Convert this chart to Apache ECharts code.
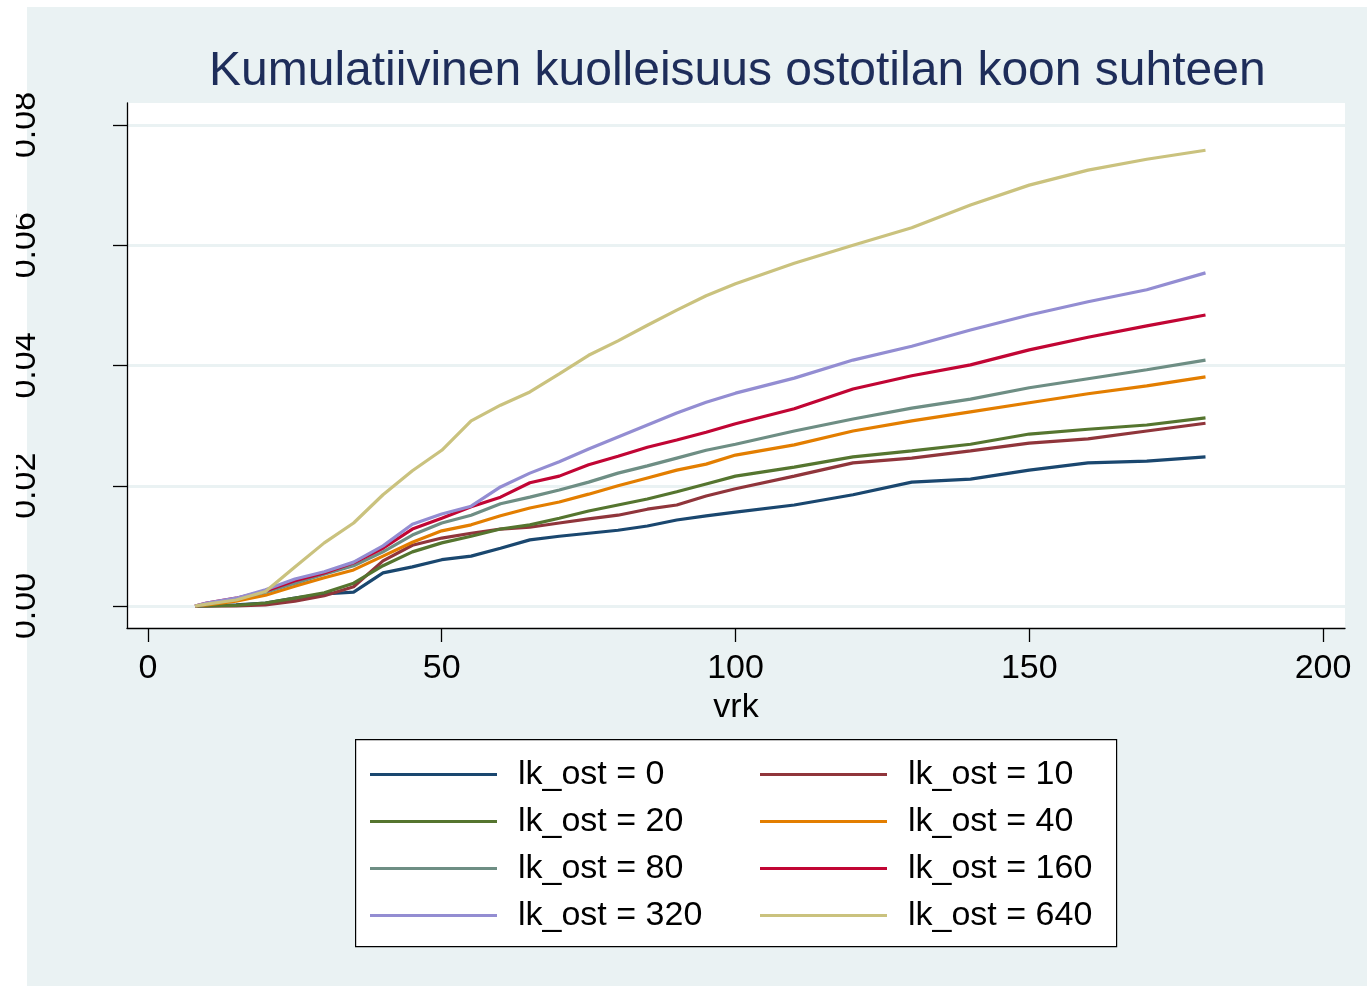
<!DOCTYPE html>
<html>
<head>
<meta charset="utf-8">
<script src="https://cdn.jsdelivr.net/npm/echarts@6/dist/echarts.min.js"></script>
<style>
  body { margin: 0; background: #fff; }
  #chart { width: 1367px; height: 986px; }
</style>
</head>
<body>
<div id="chart"></div>
<script>
// days since start (vrk)
const days = [8, 10, 15, 20, 25, 30, 35, 40, 45, 50, 55, 60, 65, 70, 75, 80, 85, 90, 95, 100, 110, 120, 130, 140, 150, 160, 170, 180];

// cumulative mortality by lk_ost group
const ost0   = [0, 0, 0.0002, 0.0005, 0.0013, 0.0020, 0.0023, 0.0055, 0.0065, 0.0077, 0.0083, 0.0096, 0.0110, 0.0116, 0.0121, 0.0126, 0.0133, 0.0143, 0.0150, 0.0156, 0.0168, 0.0185, 0.0206, 0.0211, 0.0226, 0.0238, 0.0241, 0.0248];
const ost10  = [0, 0, 0, 0.0002, 0.0008, 0.0017, 0.0032, 0.0075, 0.0101, 0.0113, 0.0121, 0.0128, 0.0131, 0.0138, 0.0145, 0.0151, 0.0161, 0.0168, 0.0183, 0.0195, 0.0216, 0.0238, 0.0246, 0.0258, 0.0271, 0.0278, 0.0291, 0.0304];
const ost20  = [0, 0, 0.0001, 0.0005, 0.0013, 0.0022, 0.0038, 0.0067, 0.0090, 0.0105, 0.0116, 0.0128, 0.0135, 0.0146, 0.0158, 0.0168, 0.0178, 0.0190, 0.0203, 0.0216, 0.0231, 0.0248, 0.0258, 0.0269, 0.0286, 0.0294, 0.0301, 0.0313];
const ost40  = [0, 0.0002, 0.0008, 0.0018, 0.0033, 0.0047, 0.0060, 0.0083, 0.0106, 0.0125, 0.0135, 0.0150, 0.0163, 0.0173, 0.0186, 0.0200, 0.0213, 0.0226, 0.0236, 0.0251, 0.0268, 0.0291, 0.0308, 0.0323, 0.0338, 0.0353, 0.0366, 0.0381];
const ost80  = [0, 0.0003, 0.0012, 0.0023, 0.0038, 0.0053, 0.0067, 0.0090, 0.0118, 0.0138, 0.0151, 0.0170, 0.0181, 0.0193, 0.0206, 0.0221, 0.0233, 0.0246, 0.0259, 0.0269, 0.0291, 0.0311, 0.0329, 0.0344, 0.0363, 0.0378, 0.0393, 0.0409];
const ost160 = [0, 0.0005, 0.0013, 0.0025, 0.0042, 0.0055, 0.0072, 0.0096, 0.0128, 0.0146, 0.0165, 0.0181, 0.0205, 0.0216, 0.0235, 0.0249, 0.0264, 0.0276, 0.0289, 0.0303, 0.0328, 0.0361, 0.0383, 0.0401, 0.0426, 0.0447, 0.0466, 0.0484];
const ost320 = [0, 0.0005, 0.0013, 0.0027, 0.0045, 0.0057, 0.0073, 0.0100, 0.0136, 0.0153, 0.0166, 0.0198, 0.0221, 0.0240, 0.0261, 0.0281, 0.0301, 0.0321, 0.0339, 0.0354, 0.0379, 0.0409, 0.0432, 0.0459, 0.0484, 0.0506, 0.0526, 0.0554];
const ost640 = [0, 0.0003, 0.0010, 0.0024, 0.0065, 0.0105, 0.0138, 0.0185, 0.0225, 0.0259, 0.0308, 0.0334, 0.0356, 0.0386, 0.0417, 0.0441, 0.0467, 0.0492, 0.0516, 0.0536, 0.0570, 0.0600, 0.0629, 0.0667, 0.0700, 0.0725, 0.0743, 0.0758];

const groupNames = ["lk_ost = 0", "lk_ost = 10", "lk_ost = 20", "lk_ost = 40", "lk_ost = 80", "lk_ost = 160", "lk_ost = 320", "lk_ost = 640"];
const groupValues = [ost0, ost10, ost20, ost40, ost80, ost160, ost320, ost640];
const groupColors = ["#1a476f", "#90353b", "#55752f", "#e37e00", "#6e8e84", "#c10534", "#938dd2", "#cac27e"];

const xTicks = [0, 50, 100, 150, 200];
const yTicks = [0, 0.02, 0.04, 0.06, 0.08];

const font = "'Liberation Sans', Arial, sans-serif";
const chart = echarts.init(document.getElementById("chart"));

const option = {
  animation: false,
  backgroundColor: "#ffffff",
  title: {
    text: "Kumulatiivinen kuolleisuus ostotilan koon suhteen",
    left: 204,
    top: 43,
    textStyle: { fontFamily: font, fontSize: 48, fontWeight: "normal", color: "#1e2d5a" },
  },
  graphic: {
    elements: [
      // outer stata-like panel
      { type: "rect", left: 27, top: 7, z: -10, shape: { width: 1340, height: 979 }, style: { fill: "#eaf2f3" } },
      // legend box
      { type: "rect", left: 355, top: 739, z: 1, shape: { width: 761, height: 207 }, style: { fill: "#fff", stroke: "#000", lineWidth: 1.2 } },
      // clipped left edge of the original
      { type: "rect", left: 0, top: 0, z: 100, shape: { width: 16, height: 986 }, style: { fill: "#fff" } },
    ],
  },
  grid: {
    left: 127,
    right: 22,
    top: 103,
    bottom: 358,
    show: true,
    backgroundColor: "#fff",
    borderWidth: 0,
  },
  legend: {
    data: groupNames,
    left: 370,
    top: 751,
    width: 790,
    padding: 0,
    itemGap: 0,
    itemWidth: 127,
    itemHeight: 3,
    icon: "rect",
    selectedMode: false,
    z: 5,
    textStyle: {
      fontFamily: font,
      fontSize: 34,
      color: "#000",
      width: 242,
      lineHeight: 47,
      padding: [0, 0, 0, 16],
    },
  },
  xAxis: {
    type: "value",
    min: -21 / 5.875,
    max: 200 + 22 / 5.875,
    name: "vrk",
    nameLocation: "middle",
    nameGap: 53,
    nameTextStyle: { fontFamily: font, fontSize: 34, color: "#000" },
    axisLine: { onZero: false, lineStyle: { color: "#000", width: 1.3 } },
    axisTick: { customValues: xTicks, length: 14, lineStyle: { color: "#000", width: 1.3 } },
    axisLabel: { customValues: xTicks, margin: 24, fontFamily: font, fontSize: 34, color: "#000" },
    splitLine: { show: false },
  },
  yAxis: {
    type: "value",
    min: -22 / 6012.5,
    max: 503 / 6012.5,
    axisLine: { show: true, onZero: false, lineStyle: { color: "#000", width: 1.3 } },
    axisTick: { show: true, customValues: yTicks, length: 14, lineStyle: { color: "#000", width: 1.3 } },
    axisLabel: {
      customValues: yTicks,
      rotate: 90,
      margin: 84,
      fontFamily: font,
      fontSize: 34,
      color: "#000",
      formatter: (v) => v.toFixed(2),
    },
    splitLine: { show: true, lineStyle: { color: "#eaf2f3", width: 3 } },
  },
  series: groupNames.map((name, i) => ({
    name: name,
    type: "line",
    data: days.map((d, j) => [d, groupValues[i][j]]),
    showSymbol: false,
    symbol: "none",
    color: groupColors[i],
    lineStyle: { color: groupColors[i], width: 3.2 },
    z: 2 + i * 0.01,
  })),
};

chart.setOption(option);
</script>
</body>
</html>
